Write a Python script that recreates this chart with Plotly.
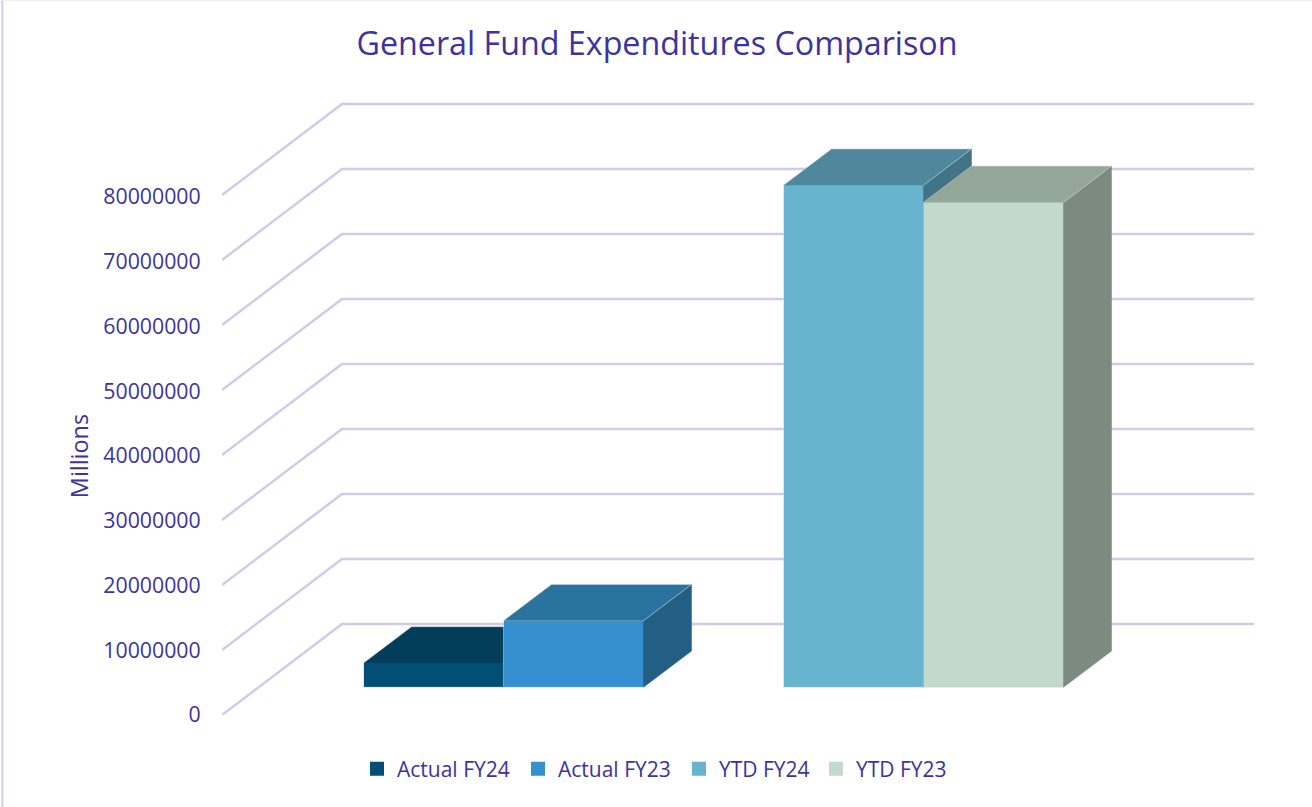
import plotly.graph_objects as go

# ---- data ----
categories = ["Actual", "YTD"]
series_names = ["Actual FY24", "Actual FY23", "YTD FY24", "YTD FY23"]
series_values = [3740000, 10250000, 77250000, 74600000]
series_group = [0, 0, 1, 1]
series_slot = [-0.5, 0.5, -0.5, 0.5]
tick_values = [0, 10000000, 20000000, 30000000, 40000000, 50000000, 60000000, 70000000, 80000000]
tick_labels = ["0", "10000000", "20000000", "30000000", "40000000", "50000000", "60000000", "70000000", "80000000"]
front_colors = ["#024f75", "#3490ce", "#68b3cd", "#c2d9cc"]
top_colors = ["#023d59", "#2a739f", "#4f879c", "#94a698"]
side_colors = ["#01344c", "#235f84", "#437486", "#7b8b7f"]
legend_widths = [124, 124, 100, 100]

TEXT = "#3c33a1"
GRID = "#cfcbe8"
EDGE = "rgba(205,215,225,0.8)"
FONT = "Open Sans"

# ---- oblique projection, in axis units ----
PX_PER_CAT = 420.0          # one category on the x axis
PX_PER_VAL = 65.0 / 1e7     # y axis scale
X_LEFT, X_RIGHT = 222.0, 1254.0
Y_TOP, Y_AXIS_TOP, Y_ZERO = 90.0, 197.0, 715.0
x_min = (X_LEFT - 503.5) / PX_PER_CAT
x_max = (X_RIGHT - 503.5) / PX_PER_CAT
y_max = (Y_ZERO - Y_TOP) / PX_PER_VAL
PLOT_W = X_RIGHT - X_LEFT
PLOT_H = Y_ZERO - Y_TOP

WALL_DX = 120.0 / PX_PER_CAT
WALL_DY = 91.0 / PX_PER_VAL
BAR_WIDTH = 140.0 / PX_PER_CAT
DEPTH_DX = 48.0 / PX_PER_CAT
DEPTH_DY = 36.3 / PX_PER_VAL
FLOOR_DY = 27.7 / PX_PER_VAL   # front of the bars, above the axis front edge
INSET_X = 1.0 / PX_PER_CAT     # half of the same-colour bar outline
INSET_Y = 1.0 / PX_PER_VAL

fig = go.Figure()

# the labelled value axis: covers 0 to 80 million only
fig.add_trace(go.Scatter(x=[x_min] * len(tick_values), y=tick_values, mode="none",
                         showlegend=False, hoverinfo="skip"))

# gridlines: diagonal on the side wall, horizontal on the back wall
for v in tick_values:
    fig.add_trace(go.Scatter(
        x=[x_min, x_min + WALL_DX, x_max], y=[v, v + WALL_DY, v + WALL_DY], yaxis="y2",
        mode="lines", line=dict(color=GRID, width=2.5),
        showlegend=False, hoverinfo="skip"))

# each bar sits on its own overlaying axes, so later bars paint over earlier ones
axis_layout = {}
for i, name in enumerate(series_names):
    n = i + 3
    xa, ya = f"x{n}", f"y{n}"
    axis_layout[f"xaxis{n}"] = dict(range=[x_min, x_max], visible=False, overlaying="x", fixedrange=True, anchor=ya)
    axis_layout[f"yaxis{n}"] = dict(range=[0, y_max], visible=False, overlaying="y2", fixedrange=True, anchor=xa)
    left = series_group[i] + (series_slot[i] - 0.5) * BAR_WIDTH
    right = left + BAR_WIDTH
    base = FLOOR_DY
    top = base + series_values[i]
    # front face
    fig.add_trace(go.Bar(
        x=[(left + right) / 2], y=[series_values[i] - 2 * INSET_Y], base=[base + INSET_Y],
        width=[BAR_WIDTH - 2 * INSET_X], name=name, legendwidth=legend_widths[i], xaxis=xa, yaxis=ya,
        marker=dict(color=front_colors[i], line=dict(width=2, color=front_colors[i]))))
    # side face
    fig.add_trace(go.Scatter(
        x=[right, right + DEPTH_DX, right + DEPTH_DX, right, right],
        y=[base, base + DEPTH_DY, top + DEPTH_DY, top, base],
        mode="lines", fill="toself", fillcolor=side_colors[i], xaxis=xa, yaxis=ya,
        line=dict(color=side_colors[i], width=0.5), showlegend=False, hoverinfo="skip"))
    # top face, with a thin light edge on its far sides
    fig.add_trace(go.Scatter(
        x=[left, left + DEPTH_DX, right + DEPTH_DX, right],
        y=[top, top + DEPTH_DY, top + DEPTH_DY, top],
        mode="lines", fill="toself", fillcolor=top_colors[i], xaxis=xa, yaxis=ya,
        line=dict(color=EDGE, width=0.7), showlegend=False, hoverinfo="skip"))
    # thin light edge on the left and bottom of the front face
    fig.add_trace(go.Scatter(
        x=[left, left, right], y=[top, base, base],
        mode="lines", xaxis=xa, yaxis=ya,
        line=dict(color=EDGE, width=0.8), showlegend=False, hoverinfo="skip"))

fig.update_layout(
    width=1312, height=807,
    paper_bgcolor="white", plot_bgcolor="rgba(0,0,0,0)",
    margin=dict(l=X_LEFT, r=1312 - X_RIGHT, t=Y_TOP, b=807 - Y_ZERO, autoexpand=False),
    font=dict(family=FONT, color=TEXT, size=19),
    title=dict(text="General Fund Expenditures Comparison",
               font=dict(family=FONT, size=32.25, color=TEXT),
               x=657 / 1312, xanchor="center", xref="container",
               y=1 - 44 / 807, yanchor="middle"),
    barmode="overlay",
    bargap=0,
    showlegend=True,
    legend=dict(orientation="h", x=(365 - X_LEFT) / PLOT_W, xanchor="left",
                y=-(769 - Y_ZERO) / PLOT_H, yanchor="middle",
                font=dict(family=FONT, size=21, color=TEXT),
                bgcolor="rgba(0,0,0,0)", indentation=-8, itemclick=False, itemdoubleclick=False),
    xaxis=dict(range=[x_min, x_max], visible=False, fixedrange=True),
    yaxis=dict(range=[0, 80000000], domain=[0, (Y_ZERO - Y_AXIS_TOP) / PLOT_H],
               tickmode="array", tickvals=tick_values, ticktext=tick_labels,
               showgrid=False, zeroline=False, showline=False, ticks="outside", ticklen=16,
               tickcolor="rgba(0,0,0,0)", tickfont=dict(family=FONT, size=21.3, color=TEXT),
               title=dict(text="Millions", font=dict(family=FONT, size=23.4, color=TEXT), standoff=8),
               fixedrange=True),
    yaxis2=dict(range=[0, y_max], domain=[0, 1], visible=False, anchor="x", fixedrange=True),
    shapes=[
        dict(type="line", xref="paper", yref="paper", x0=(2.3 - X_LEFT) / PLOT_W,
             x1=(2.3 - X_LEFT) / PLOT_W, y0=-(807 - Y_ZERO) / PLOT_H,
             y1=1 + Y_TOP / PLOT_H, line=dict(color="#d0cdee", width=2)),
        dict(type="line", xref="paper", yref="paper", x0=(0 - X_LEFT) / PLOT_W,
             x1=(1312 - X_LEFT) / PLOT_W, y0=1 + (Y_TOP - 0.5) / PLOT_H,
             y1=1 + (Y_TOP - 0.5) / PLOT_H, line=dict(color="#eeedf9", width=1)),
    ],
    **axis_layout,
)

fig.write_html("out.html", config={"displayModeBar": False},
               post_script="document.body.style.margin='0';document.body.style.overflow='hidden';")
